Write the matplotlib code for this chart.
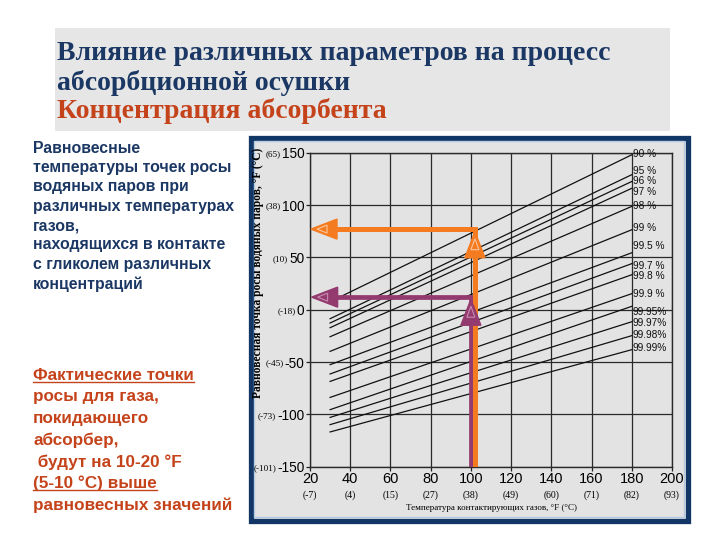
import matplotlib.pyplot as plt
from matplotlib.patches import Rectangle, Polygon
from matplotlib.lines import Line2D

# Оси: °F и (°C)
x_ticks = [20, 40, 60, 80, 100, 120, 140, 160, 180, 200]
x_ticks_c = ['(-7)', '(4)', '(15)', '(27)', '(38)', '(49)', '(60)', '(71)', '(82)', '(93)']
y_ticks = [150, 100, 50, 0, -50, -100, -150]
y_ticks_c = ['(65)', '(38)', '(10)', '(-18)', '(-45)', '(-73)', '(-101)']

# Концентрации гликоля и линии равновесной точки росы
conc = ['90 %', '95 %', '96 %', '97 %', '98 %', '99 %', '99.5 %', '99.7 %', '99.8 %',
        '99.9 %', '99.95%', '99.97%', '99.98%', '99.99%']
t_start = 30
t_end = 180
dew_start = [7.6, -8.6, -12.7, -17.2, -25.8, -39.8, -52.5, -61.4, -68.5, -83.8, -95.5, -102.9, -109.8, -116.8]
dew_end = [148, 129, 122.5, 116, 98.7, 76.4, 54.4, 44, 33.4, 15.3, 3.2, -11.5, -24.8, -38.2]
label_y = [149, 132.8, 122.5, 112.7, 99.3, 77.7, 60.5, 42, 31.8, 15, -2.6, -12.7, -23.9, -36.6]

# Стрелки (°F, °F)
orange_x, orange_y = 102, 77
purple_x, purple_y = 100, 12
arrow_tip_x = 20.8

navy = '#1b3763'
red = '#c5431b'
orange = '#f47b20'
purple = '#933a6f'

fig = plt.figure(figsize=(7.2, 5.4), dpi=100)
W, H = 720, 540

def fx(px):
    return px / W

def fy(py):
    return 1 - py / H

# заголовок
fig.add_artist(Rectangle((fx(55), fy(131)), fx(670) - fx(55), fy(28) - fy(131),
                         transform=fig.transFigure, facecolor='#e6e6e6', edgecolor='none', zorder=-2))
title_font = dict(family='Liberation Serif', weight='bold', fontsize=20, va='center', ha='left')
fig.text(fx(57), fy(54), 'Влияние различных параметров на процесс', color=navy, **title_font)
fig.text(fx(57), fy(83), 'абсорбционной осушки', color=navy, **title_font)
fig.text(fx(57), fy(111), 'Концентрация абсорбента', color=red, **title_font)

# рамка с графиком
fig.add_artist(Rectangle((fx(250.5), fy(520.5)), fx(687.5) - fx(250.5), fy(137.5) - fy(520.5),
                         transform=fig.transFigure, facecolor='#e3e3e3', edgecolor='#123766',
                         lw=3.8, zorder=-2))
fig.add_artist(Rectangle((fx(254), fy(517)), fx(684) - fx(254), fy(141) - fy(517),
                         transform=fig.transFigure, facecolor='none', edgecolor='#b4cbe3',
                         lw=1.0, zorder=-1))

# текст слева
left_text = ['Равновесные', 'температуры точек росы', 'водяных паров при',
             'различных температурах', 'газов,', 'находящихся в контакте',
             'с гликолем различных', 'концентраций']
for i, s in enumerate(left_text):
    fig.text(fx(33), fy(148 + i * 19.4), s, family='Liberation Sans', weight='bold',
             fontsize=11.4, color=navy, va='center', ha='left')

note_text = ['Фактические точки', 'росы для газа,', 'покидающего', 'абсорбер,',
             ' будут на 10-20 °F', '(5-10 °C) выше', 'равновесных значений']
note_under = [0, 5]
note_objs = []
for i, s in enumerate(note_text):
    t = fig.text(fx(33), fy(375 + i * 21.7), s, family='Liberation Sans', weight='bold',
                 fontsize=12.3, color=red, va='center', ha='left')
    note_objs.append(t)

# сам график
ax = fig.add_axes([fx(310), fy(466.7), fx(672) - fx(310), fy(152.7) - fy(466.7)])
ax.set_facecolor('none')
ax.set_xlim(20, 200)
ax.set_ylim(-150, 150)
ax.set_xticks(x_ticks)
ax.set_yticks(y_ticks)
ax.set_xticklabels([str(v) for v in x_ticks], family='Liberation Sans', fontsize=10.5)
ax.set_yticklabels([str(v) for v in y_ticks], family='Liberation Sans', fontsize=9.8)
ax.tick_params(length=3, width=0.9, color='#222222', pad=1)
ax.grid(True, color='#2a2a2a', lw=0.9)
for sp in ax.spines.values():
    sp.set_color('#2a2a2a')
    sp.set_linewidth(1.0)

for d0, d1, lab, ly in zip(dew_start, dew_end, conc, label_y):
    ax.plot([t_start, t_end], [d0, d1], color='#111111', lw=0.9)
    ax.text(180.6, ly, lab, family='Liberation Sans', fontsize=7.3, va='center', ha='left',
            color='#111111')

# перевод °F в Цельсий под осью X
for v, c in zip(x_ticks, x_ticks_c):
    ax.annotate(c, (v, 0), xycoords=('data', 'axes fraction'), xytext=(0, -20.3),
                textcoords='offset points', ha='center', va='center',
                family='Liberation Serif', fontsize=7)

ax.text(0.5, -0.13, 'Температура контактирующих газов, °F (°C)', transform=ax.transAxes,
        ha='center', va='center', family='Liberation Serif', fontsize=6.5)
fig.text(fx(258), fy(273), 'Равновесная точка росы водяных паров, °F (°C)', rotation=90,
         ha='center', va='center', family='Liberation Serif', weight='bold', fontsize=8.3)

# стрелки
px_x = (672 - 310) / 180
px_y = (466.7 - 152.7) / 300

def head(x, y, direction, color, light):
    L, h = 26, 10
    if direction == 'left':
        pts = [(x, y), (x + L / px_x, y + h / px_y), (x + L / px_x, y - h / px_y)]
        inner = [(x + 6 / px_x, y), (x + 16 / px_x, y + 4 / px_y), (x + 16 / px_x, y - 4 / px_y)]
    else:
        pts = [(x, y), (x - h / px_x, y - L / px_y), (x + h / px_x, y - L / px_y)]
        inner = [(x, y - 7 / px_y), (x - 4 / px_x, y - 18 / px_y), (x + 4 / px_x, y - 18 / px_y)]
    ax.add_patch(Polygon(pts, closed=True, facecolor=color, edgecolor=color, lw=1, zorder=6))
    ax.add_patch(Polygon(inner, closed=True, facecolor='none', edgecolor=light, lw=0.8, zorder=7))

ax.plot([purple_x, purple_x, arrow_tip_x + 10], [-150, purple_y, purple_y], color=purple, lw=3.4,
        solid_joinstyle='miter', zorder=5)
head(arrow_tip_x, purple_y, 'left', purple, '#c98bb0')
head(purple_x, purple_y - 2, 'up', purple, '#c98bb0')

ax.plot([orange_x, orange_x, arrow_tip_x + 10], [-150, orange_y, orange_y], color=orange, lw=3.6,
        solid_joinstyle='miter', zorder=5)
head(arrow_tip_x - 0.3, orange_y, 'left', orange, '#fbc49a')
head(orange_x, orange_y - 2.5, 'up', orange, '#fbc49a')

# подписи (°C) на оси Y и подчёркивания
fig.canvas.draw()
r = fig.canvas.get_renderer()
for lab, c in zip(ax.get_yticklabels(), y_ticks_c):
    bb = lab.get_window_extent(r)
    fig.text((bb.x0 - 1) / W, (bb.y0 + bb.y1) / 2 / H, c, ha='right', va='center',
             family='Liberation Serif', fontsize=6.6)

for i in note_under:
    bb = note_objs[i].get_window_extent(r)
    fig.add_artist(Line2D([bb.x0 / W, bb.x1 / W], [(bb.y0 + 1) / H, (bb.y0 + 1) / H],
                          color=red, lw=1.0, transform=fig.transFigure))

fig.savefig('out.png', dpi=100)
